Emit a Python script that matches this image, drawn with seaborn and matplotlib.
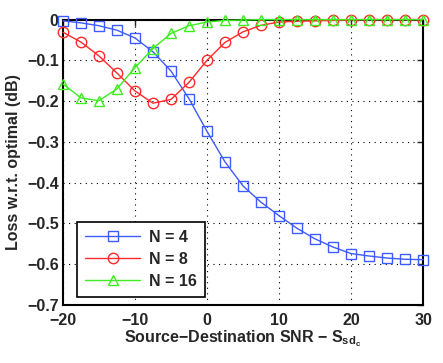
import numpy as np
import pandas as pd
import matplotlib
matplotlib.use("Agg")
import matplotlib.pyplot as plt
import seaborn as sns

# data (loss in dB vs source-destination SNR)
snr = [-20, -17.5, -15, -12.5, -10, -7.5, -5, -2.5, 0, 2.5, 5, 7.5, 10,
       12.5, 15, 17.5, 20, 22.5, 25, 27.5, 30]
loss_n4 = [-0.003, -0.008, -0.015, -0.026, -0.045, -0.079, -0.126, -0.194,
           -0.274, -0.349, -0.408, -0.448, -0.481, -0.512, -0.538, -0.558,
           -0.574, -0.580, -0.585, -0.588, -0.589]
loss_n8 = [-0.031, -0.055, -0.089, -0.131, -0.175, -0.205, -0.196, -0.154,
           -0.100, -0.056, -0.030, -0.014, -0.006, -0.004, -0.003, -0.002,
           -0.001, 0.0, 0.0, 0.0, 0.0]
loss_n16 = [-0.158, -0.192, -0.199, -0.170, -0.118, -0.071, -0.034, -0.015,
            -0.006, -0.002, -0.001, 0.0, 0.0, 0.0, 0.0, 0.0, 0.0, 0.0, 0.0,
            0.0, 0.0]
labels = ["N = 4", "N = 8", "N = 16"]
colors = ["#3c5cff", "#ff2a2a", "#3cee1e"]
markers = ["s", "o", "^"]

sns.set_style("white")
plt.rcParams["font.family"] = ["Liberation Sans", "DejaVu Sans"]
plt.rcParams["font.weight"] = "bold"
plt.rcParams["mathtext.fontset"] = "custom"
plt.rcParams["mathtext.rm"] = "Liberation Sans:bold"
plt.rcParams["mathtext.bf"] = "Liberation Sans:bold"
plt.rcParams["mathtext.it"] = "Liberation Sans:bold"

fig = plt.figure(figsize=(4.43, 3.63), dpi=100)
ax = fig.add_axes([0.142, 0.160, 0.813, 0.786])

for lab, ys, c, m in zip(labels, [loss_n4, loss_n8, loss_n16], colors, markers):
    df = pd.DataFrame({"snr": snr, "loss": ys})
    sns.lineplot(data=df, x="snr", y="loss", ax=ax, color=c, marker=m,
                 markersize=7.5, markerfacecolor="none", markeredgecolor=c,
                 markeredgewidth=1.0, linewidth=1.0, label=lab, clip_on=False,
                 zorder=3)

ax.set_xlim(-20, 30)
ax.set_ylim(-0.7, 0)
ax.set_xticks([-20, -10, 0, 10, 20, 30])
ax.set_yticks(np.arange(-0.7, 0.01, 0.1))
ax.set_yticklabels(["\u22120.7", "\u22120.6", "\u22120.5", "\u22120.4",
                    "\u22120.3", "\u22120.2", "\u22120.1", "0"])
ax.set_xticklabels(["\u221220", "\u221210", "0", "10", "20", "30"])
ax.tick_params(direction="in", length=4, width=1, top=True, right=True,
               labelsize=11.5)
ax.tick_params(axis="x", pad=6)
ax.tick_params(axis="y", pad=3)
for t in ax.get_xticklabels() + ax.get_yticklabels():
    t.set_fontweight("bold")
ax.grid(True, color="black", linestyle=(0, (1, 4)), linewidth=0.8)
for s in ax.spines.values():
    s.set_color("black")
    s.set_linewidth(1.5)
    s.set_zorder(2.5)

ax.set_xlabel("Source\u2212Destination SNR \u2212 $\\mathrm{S}_{\\mathrm{sd}_{\\mathrm{c}}}$",
              fontsize=11.5, fontweight="bold", labelpad=0)
ax.set_ylabel("Loss w.r.t. optimal (dB)", fontsize=11.5, fontweight="bold",
              labelpad=4)

leg = ax.legend(loc="lower left", bbox_to_anchor=(0.018, 0.0), fancybox=False,
                edgecolor="black", framealpha=1, handlelength=3.4,
                prop={"weight": "bold", "size": 11.5}, borderpad=0.5,
                labelspacing=0.45, handletextpad=0.6)
leg.get_frame().set_linewidth(1.2)
leg.set_zorder(5)

fig.savefig("out.png", dpi=100)
